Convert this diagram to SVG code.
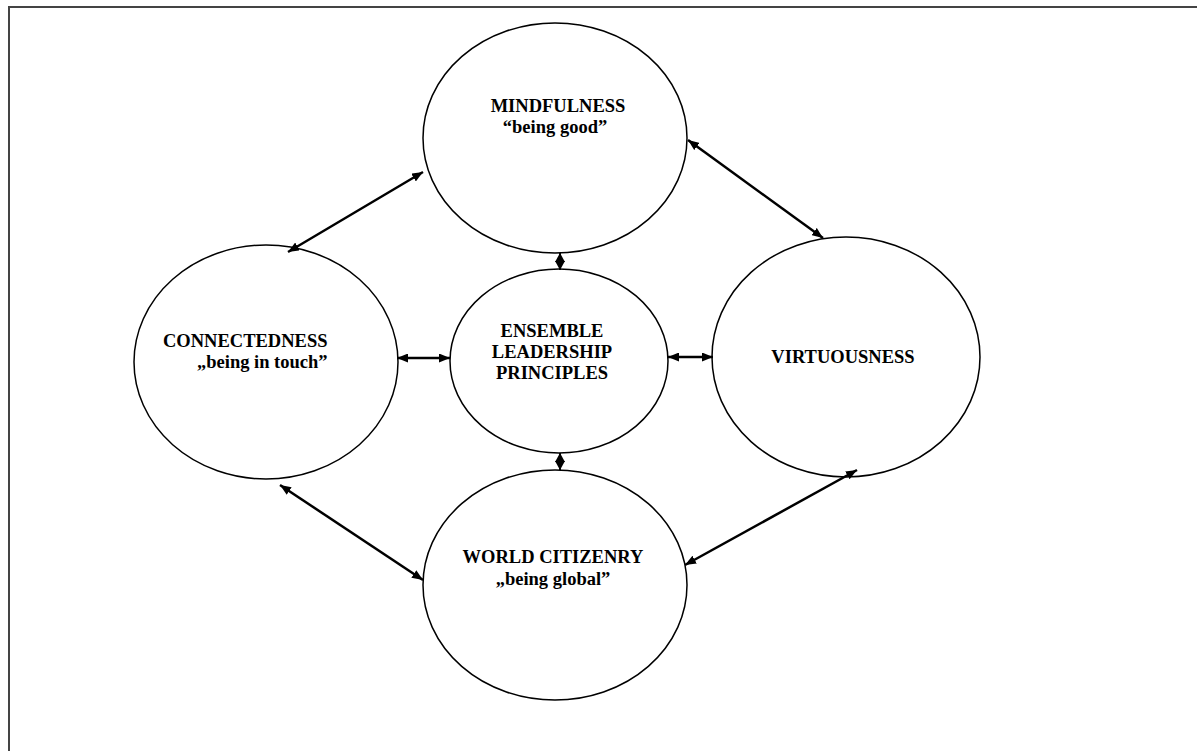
<svg xmlns="http://www.w3.org/2000/svg" width="1197" height="751" viewBox="0 0 1197 751">
<defs>
<marker id="ah" viewBox="0 0 11 9" refX="11" refY="4.5" markerWidth="11" markerHeight="9" markerUnits="userSpaceOnUse" orient="auto-start-reverse">
<path d="M0,0 L11,4.5 L0,9 Z" fill="#000"/>
</marker>
<marker id="dh" viewBox="0 0 9 10" refX="9" refY="5" markerWidth="9" markerHeight="10" markerUnits="userSpaceOnUse" orient="auto-start-reverse">
<path d="M0,0 L9,5 L0,10 Z" fill="#000"/>
</marker>
<style>
.node ellipse{fill:#fff;stroke:#000;stroke-width:1.5}
.node text{font-family:"Liberation Serif","Times New Roman",serif;font-weight:bold;font-size:18.5px;fill:#000}
.c{fill:none;stroke:#000;stroke-width:2.5;marker-start:url(#ah);marker-end:url(#ah)}
.d{fill:none;stroke:#000;stroke-width:2;marker-start:url(#dh);marker-end:url(#dh)}
</style>
</defs>
<rect width="1197" height="751" fill="#fff"/>
<path d="M9,751 V7 H1197" fill="none" stroke="#444" stroke-width="2"/>
<g id="mindfulness" class="node">
<ellipse cx="555" cy="138" rx="132" ry="115"/>
<text x="558" y="112" text-anchor="middle">MINDFULNESS</text>
<text x="555" y="133" text-anchor="middle">“being good”</text>
</g>
<g id="connectedness" class="node">
<ellipse cx="266" cy="362" rx="132" ry="117"/>
<text x="163" y="347">CONNECTEDNESS</text>
<text x="197" y="368">„being in touch”</text>
</g>
<g id="ensemble" class="node">
<ellipse cx="559" cy="361" rx="109" ry="92"/>
<text x="552" y="337" text-anchor="middle">ENSEMBLE</text>
<text x="552" y="358" text-anchor="middle">LEADERSHIP</text>
<text x="552" y="379" text-anchor="middle">PRINCIPLES</text>
</g>
<g id="virtuousness" class="node">
<ellipse cx="846" cy="357" rx="134" ry="120"/>
<text x="843" y="363" text-anchor="middle">VIRTUOUSNESS</text>
</g>
<g id="world" class="node">
<ellipse cx="555" cy="585" rx="132" ry="115"/>
<text x="553" y="563" text-anchor="middle">WORLD CITIZENRY</text>
<text x="553" y="585" text-anchor="middle">„being global”</text>
</g>
<g id="connectors">
<line class="c" x1="423" y1="172" x2="288" y2="252"/>
<line class="c" x1="688" y1="140" x2="823" y2="238"/>
<line class="c" x1="397" y1="358" x2="450" y2="358"/>
<line class="c" x1="668" y1="357" x2="713" y2="357"/>
<line class="c" x1="280" y1="485" x2="423" y2="580"/>
<line class="c" x1="685" y1="565" x2="857" y2="470"/>
<line class="d" x1="560" y1="253" x2="560" y2="270"/>
<line class="d" x1="560" y1="453" x2="560" y2="470"/>
</g>
</svg>
